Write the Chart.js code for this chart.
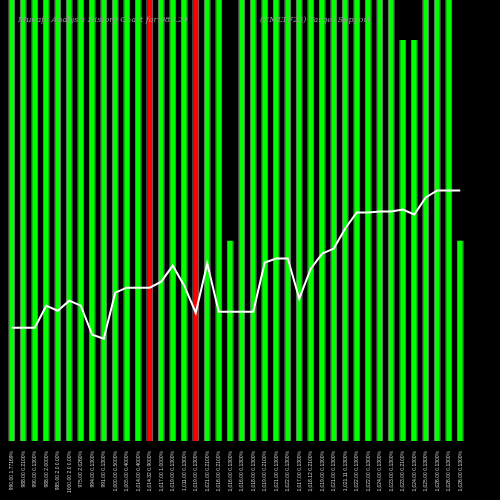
<!DOCTYPE html><html><head><script src="https://cdn.jsdelivr.net/npm/chart.js"></script>
<style>body{margin:0;background:#000}#w{width:500px;height:500px}</style></head><body><div id="w"><canvas id="c"></canvas></div>
<script>
const labels=["990.00 1.77169%","988.00 0.2100%","990.00 0.1300%","988.00 2.0000%","985.00 2.0 0.00%","1000.00 2.0 0.00%","975.00 2.0260%","994.00 0.1300%","991.00 0.1300%","1,000.00 0.5000%","1,005.00 0.4000%","1,014.00 0.4000%","1,014.32 0.9000%","1,017.00 1.0000%","1,019.00 0.1300%","1,011.00 0.1300%","1,019.00 0.1300%","1,021.00 0.2100%","1,016.00 0.2100%","1,016.00 0.1300%","1,016.00 0.1300%","1,018.00 0.1300%","1,019.00 0.2100%","1,021.00 0.1300%","1,022.00 0.1300%","1,017.00 0.1300%","1,018.12 0.2100%","1,019.00 0.1300%","1,021.00 0.1300%","1,021.11 0.1300%","1,022.00 0.1300%","1,022.00 0.1300%","1,024.00 0.1300%","1,023.00 0.1300%","1,023.00 0.2100%","1,024.00 0.1300%","1,025.00 0.1300%","1,026.00 0.1300%","1,026.00 0.1300%","1,026.00 0.1300%"];
const barValues=[440,440,440,440,440,440,440,440,440,440,440,440,440,440,440,440,440,440,440,200,440,440,440,440,440,440,440,440,440,440,440,440,440,440,400,400,440,440,440,200];
const barColors=["g","g","g","g","g","g","g","g","g","g","g","g","r","g","g","g","r","g","g","g","g","g","g","g","g","g","g","g","g","g","g","g","g","g","g","g","g","g","g","g"];
const lineY=[327,327,327,305,310,300,305,334,338,292,287,287,287,281,265,285,312,263,311,311,311,311,262,258,258,298,268,253,248,228,212,212,211,211,209,214,197,190,190,190];
const lineValues=lineY.map(y=>440-y);
const titlePlugin={id:'t',afterDraw(ch){const x=ch.ctx;x.save();x.font='italic 8px "DejaVu Serif",serif';x.fillStyle='#999';x.fillText('Munafa Analysis History Chart for 982.29',18,22);x.fillText('(CMLTF25) Target Support',260,22);x.restore();}};
new Chart(document.getElementById('c'),{data:{labels,datasets:[
{type:'line',data:lineValues,borderColor:'#fff',borderWidth:2,pointRadius:0,tension:0,order:0},
{type:'bar',data:barValues,backgroundColor:barColors.map(c=>c=='r'?'#ff0000':'#00ff00'),borderColor:'#888',borderWidth:{left:1,right:1},barPercentage:0.6,categoryPercentage:1,order:1}]},
options:{responsive:true,maintainAspectRatio:false,animation:false,layout:{padding:{left:6,right:34,top:0,bottom:5}},plugins:{legend:{display:false},tooltip:{enabled:false}},
scales:{y:{display:false,min:0,max:440},x:{grid:{display:false},border:{display:false},ticks:{color:'#ccc',font:{size:5},maxRotation:90,minRotation:90,autoSkip:false,padding:2}}}},plugins:[titlePlugin]});
</script></body></html>
